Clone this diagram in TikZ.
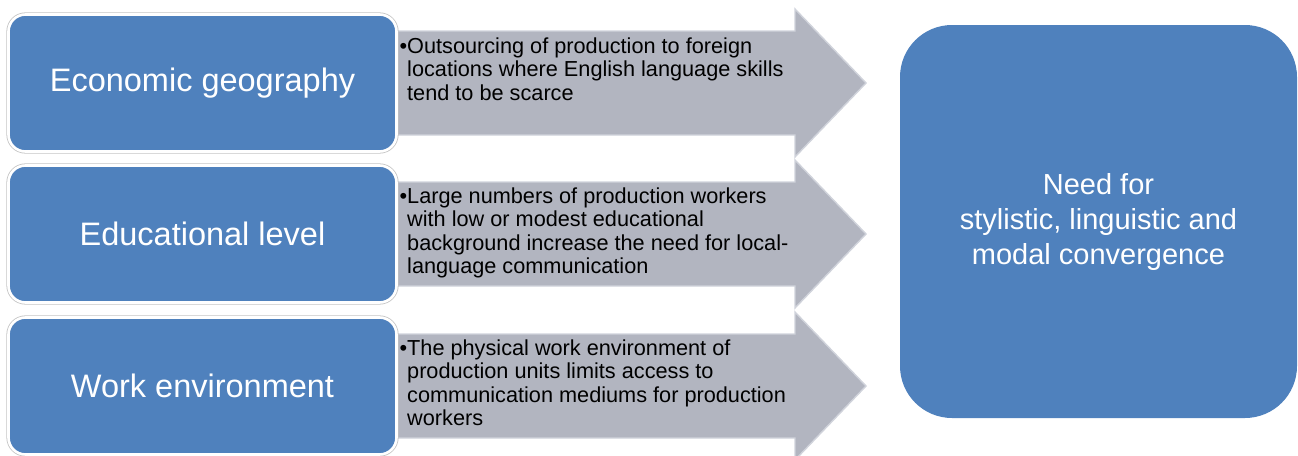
\documentclass[tikz,border=0pt]{standalone}
\usepackage{fontspec}
\setmainfont{Liberation Sans}
\definecolor{boxblue}{RGB}{79,129,189}
\definecolor{arrowfill}{RGB}{178,181,192}
\definecolor{arrowline}{RGB}{208,211,219}
\definecolor{ringgray}{RGB}{196,196,196}
\begin{document}
\begin{tikzpicture}[x=1pt,y=-1pt,
  factor/.style={rounded corners=17pt, fill=boxblue, draw=white, line width=2.6pt,
    preaction={draw=ringgray, line width=4.2pt},
    minimum width=388pt, minimum height=137pt, inner sep=0pt,
    text=white, font=\fontsize{32.5}{36}\selectfont},
  flow/.style={fill=arrowfill, draw=arrowline, line width=1.4pt, line join=miter},
  note/.style={anchor=north west, inner sep=0pt, align=left, text=black,
    font=\fontsize{21.7}{23.3}\selectfont},
  outcome/.style={rounded corners=52pt, fill=boxblue, minimum width=397pt,
    minimum height=393pt, inner sep=0pt, align=center, text=white,
    font=\fontsize{29}{35}\selectfont}
]
\useasboundingbox (0,0) rectangle (1298,455);
\clip (0,0) rectangle (1298,455);

% grey block arrows behind the factor boxes
\foreach \cy in {83,234,386}{
  \draw[flow] (380,\cy-52) -- (795,\cy-52) -- (795,\cy-74) -- (866,\cy)
    -- (795,\cy+74) -- (795,\cy+52) -- (380,\cy+52) -- cycle;
}

% factor boxes
\node[factor] (geo)  at (202.5,83)  {Economic geography};
\node[factor] (edu)  at (202.5,234) {Educational level};
\node[factor] (work) at (202.5,386) {Work environment};

% explanations written on the arrows
\node[note] (geonote) at (407,37.5) {\llap{\textbullet}Outsourcing of production to foreign\\
  locations where English language skills\\ tend to be scarce};
\node[note] (edunote) at (407,187.5) {\llap{\textbullet}Large numbers of production workers\\
  with low or modest educational\\ background increase the need for local-\\
  language communication};
\node[note] (worknote) at (407,339.5) {\llap{\textbullet}The physical work environment of\\
  production units limits access to\\ communication mediums for production\\
  workers};

% resulting need
\node[outcome] (need) at (1098.5,221.5) {Need for\\ stylistic, linguistic and\\ modal convergence};
\end{tikzpicture}
\end{document}
